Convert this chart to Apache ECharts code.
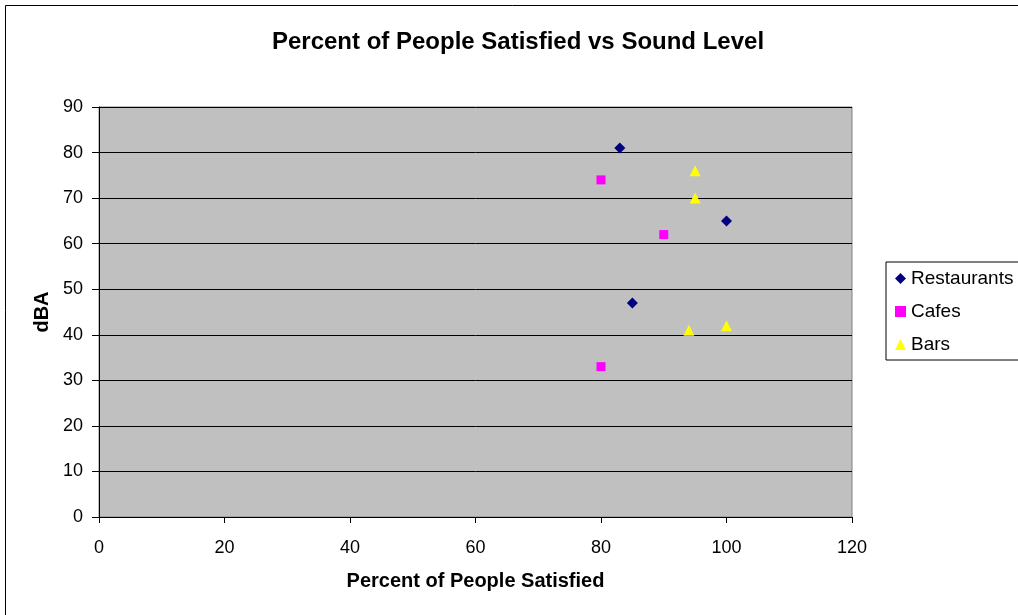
<!DOCTYPE html>
<html><head><meta charset="utf-8">
<script src="https://cdn.jsdelivr.net/npm/echarts@6/dist/echarts.min.js"></script>
<style>html,body{margin:0;padding:0;background:#fff}#c{width:1018px;height:615px}</style>
</head><body><div id="c"></div>
<script>
const seriesNames = ['Restaurants', 'Cafes', 'Bars'];
const restaurants = [[83, 81], [100, 65], [85, 47]];
const cafes = [[80, 74], [90, 62], [80, 33]];
const bars = [[95, 76], [95, 70], [94, 41], [100, 42]];
const xTicks = [0, 20, 40, 60, 80, 100, 120];
const yTicks = [0, 10, 20, 30, 40, 50, 60, 70, 80, 90];

const FONT = 'Liberation Sans, Arial, sans-serif';
const chart = echarts.init(document.getElementById('c'), null, {renderer: 'canvas'});
chart.setOption({
  animation: false,
  backgroundColor: '#fff',
  title: {
    text: 'Percent of People Satisfied vs Sound Level',
    left: 513, top: 25, textAlign: 'center',
    textStyle: {fontFamily: FONT, fontSize: 24, fontWeight: 'bold', color: '#000'}
  },
  graphic: [{
    type: 'rect', shape: {x: 5.5, y: 5.5, width: 1030, height: 630},
    style: {fill: 'none', stroke: '#000', lineWidth: 1}, z: -10
  }],
  grid: {left: 99, top: 107, width: 753, height: 410, show: true,
    backgroundColor: '#C0C0C0', borderColor: '#808080', borderWidth: 1},
  legend: {
    orient: 'vertical', left: 886, top: 262,
    data: seriesNames,
    backgroundColor: '#fff', borderColor: '#000', borderWidth: 1,
    padding: [7, 40, 6, 9], itemGap: 14, itemWidth: 11, itemHeight: 11,
    textStyle: {fontFamily: FONT, fontSize: 19, color: '#000', lineHeight: 19, padding: [0, 0, 0, 0]}
  },
  xAxis: {
    type: 'value', min: xTicks[0], max: xTicks[xTicks.length - 1], interval: 20,
    name: 'Percent of People Satisfied', nameLocation: 'middle', nameGap: 54,
    nameTextStyle: {fontFamily: FONT, fontSize: 20, fontWeight: 'bold', color: '#000'},
    axisLine: {show: true, onZero: false, lineStyle: {color: '#000', width: 1}},
    axisTick: {show: true, length: 6, lineStyle: {color: '#000'}},
    axisLabel: {fontFamily: FONT, fontSize: 18, color: '#000', margin: 22},
    splitLine: {show: false}
  },
  yAxis: {
    type: 'value', min: yTicks[0], max: yTicks[yTicks.length - 1], interval: 10,
    name: 'dBA', nameLocation: 'middle', nameGap: 47, nameRotate: 90,
    nameTextStyle: {fontFamily: FONT, fontSize: 20, fontWeight: 'bold', color: '#000'},
    axisLine: {show: true, onZero: false, lineStyle: {color: '#000', width: 1}},
    axisTick: {show: true, length: 7, lineStyle: {color: '#000'}},
    axisLabel: {fontFamily: FONT, fontSize: 18, color: '#000', margin: 16},
    splitLine: {show: true, lineStyle: {color: '#000', width: 1}}
  },
  series: [
    {name: seriesNames[0], type: 'scatter', data: restaurants, symbol: 'diamond', symbolSize: 11,
      itemStyle: {color: '#000080', opacity: 1}},
    {name: seriesNames[1], type: 'scatter', data: cafes, symbol: 'rect', symbolSize: 9,
      itemStyle: {color: '#FF00FF', opacity: 1}},
    {name: seriesNames[2], type: 'scatter', data: bars, symbol: 'triangle', symbolSize: 11,
      itemStyle: {color: '#FFFF00', opacity: 1}}
  ]
});
</script></body></html>
